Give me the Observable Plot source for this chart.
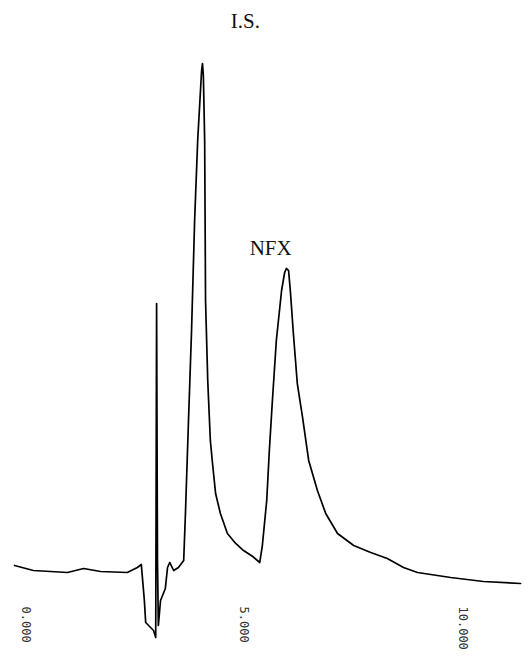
<!DOCTYPE html>
<html>
<head>
<meta charset="utf-8">
<script src="https://cdn.jsdelivr.net/npm/d3@7"></script>
<script src="https://cdn.jsdelivr.net/npm/@observablehq/plot@0.6"></script>
<style>
  html, body { margin: 0; padding: 0; background: #fff; }
  #chart svg { display: block; }
</style>
</head>
<body>
<div id="chart"></div>
<script>
// Retention time (min) and detector signal (relative, I.S. peak = 100)
const time = [
  -0.25, 0.18, 0.57, 0.96, 1.33, 1.72, 2.33, 2.56, 2.65, 2.72, 2.75, 2.93, 2.98,
  3.00, 3.02, 3.04, 3.09, 3.20, 3.25, 3.30, 3.39, 3.50, 3.62, 3.66, 3.73, 3.80,
  3.87, 3.94, 4.03, 4.05, 4.07, 4.10, 4.12, 4.17, 4.23, 4.28, 4.35, 4.46, 4.62,
  4.81, 4.99, 5.20, 5.36, 5.42, 5.52, 5.58, 5.65, 5.74, 5.86, 5.93, 5.97, 6.02,
  6.06, 6.13, 6.22, 6.34, 6.48, 6.68, 6.87, 7.14, 7.51, 7.90, 8.28, 8.65, 8.97,
  9.73, 10.48, 11.33
];
const signal = [
  0.99, 0.00, -0.20, -0.39, 0.39, -0.20, -0.39, 0.59, 1.18, -5.92, -10.26, -11.83, -13.21,
  52.66, 1.97, -10.85, -5.92, -3.55, 0.59, 1.58, 0.00, 0.59, 1.97, 11.24, 29.59, 47.34,
  69.03, 84.81, 98.62, 100.00, 97.63, 84.81, 53.25, 37.48, 25.64, 21.10, 15.19, 11.24, 7.30,
  5.33, 3.94, 2.76, 1.58, 4.93, 13.81, 23.67, 33.53, 45.36, 55.23, 58.78, 59.57, 59.17,
  55.23, 46.75, 36.88, 30.18, 21.70, 15.78, 11.24, 7.30, 4.93, 3.55, 2.37, 0.59, -0.39,
  -1.38, -2.17, -2.56
];

// Peak labels
const peakNames = ["I.S.", "NFX"];
const peakLabelTime = [5.03, 5.61];
const peakLabelSignal = [108.3, 63.5];

// Time axis tick labels
const tickValues = [0, 5, 10];
const tickLabels = ["0.000", "5.000", "10.000"];

const trace = time.map((t, i) => ({t, s: signal[i]}));
const peaks = peakNames.map((name, i) => ({name, t: peakLabelTime[i], s: peakLabelSignal[i]}));
const ticks = tickValues.map((t, i) => ({t, label: tickLabels[i]}));

const chart = Plot.plot({
  width: 528,
  height: 670,
  marginTop: 0,
  marginLeft: 0,
  marginRight: 0,
  marginBottom: 66,
  x: {domain: [0, 10], range: [25, 462], axis: null},
  y: {domain: [0, 100], range: [570, 63], axis: null},
  marks: [
    Plot.line(trace, {x: "t", y: "s", stroke: "#000", strokeWidth: 1.7, curve: "linear"}),
    Plot.text(peaks, {x: "t", y: "s", text: "name", fontSize: 21, fontFamily: "Liberation Serif", fill: "#111"}),
    Plot.text(ticks, {x: "t", text: "label", frameAnchor: "bottom", dy: 2, rotate: 90, textAnchor: "start", lineAnchor: "middle", fontSize: 12, fontFamily: "DejaVu Sans Mono", fill: "#333"})
  ]
});
document.getElementById("chart").appendChild(chart);
</script>
</body>
</html>
